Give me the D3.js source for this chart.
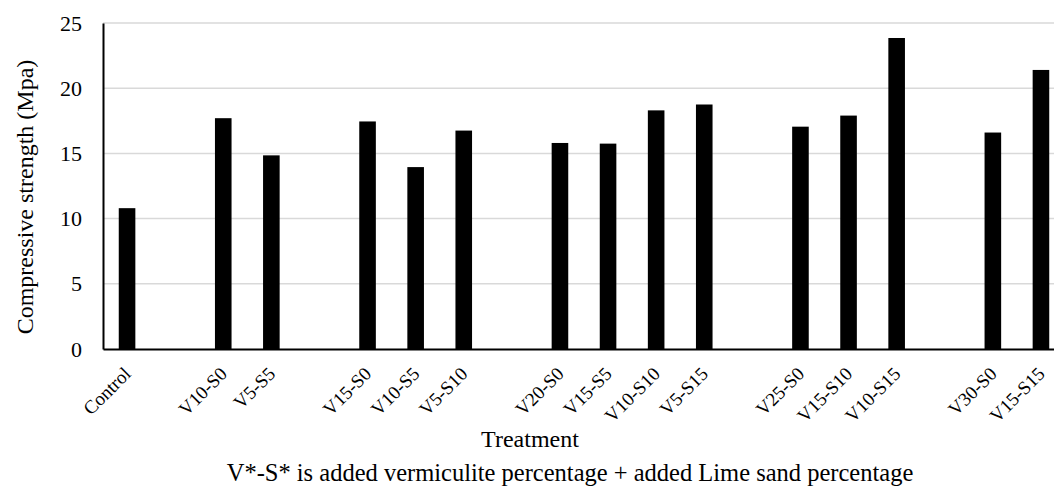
<!DOCTYPE html>
<html>
<head>
<meta charset="utf-8">
<script src="https://cdn.jsdelivr.net/npm/d3@7"></script>
<style>
  body { margin: 0; background: #fff; }
  svg { display: block; font-family: "Liberation Serif", "DejaVu Serif", serif; }
</style>
</head>
<body>
<div id="chart"></div>
<script>
// empty strings are the spacer slots between treatment groups
var categories = ["Control", "", "V10-S0", "V5-S5", "", "V15-S0", "V10-S5", "V5-S10", "",
                  "V20-S0", "V15-S5", "V10-S10", "V5-S15", "", "V25-S0", "V15-S10", "V10-S15", "",
                  "V30-S0", "V15-S15"]
var strength = [10.8, null, 17.7, 14.85, null, 17.45, 13.95, 16.75, null,
                15.8, 15.75, 18.3, 18.75, null, 17.05, 17.9, 23.85, null,
                16.6, 21.4]
var yTicks = [0, 5, 10, 15, 20, 25]

var width = 1054,
    height = 486,
    plotLeft = 103,
    plotRight = 1065,
    plotTop = 23,
    plotBottom = 349

var svg = d3.select("#chart").append("svg")
    .attr("width", width)
    .attr("height", height)

var x = d3.scaleBand()
    .domain(d3.range(categories.length))
    .range([plotLeft, plotRight])
    .paddingInner(0.655)
    .paddingOuter(0.3275)

var y = d3.scaleLinear()
    .domain([0, 25])
    .range([plotBottom, plotTop])

// gridlines
svg.append("g")
  .selectAll("line")
  .data(yTicks.filter(function(d) { return d > 0 }))
  .enter().append("line")
    .attr("x1", plotLeft)
    .attr("x2", width)
    .attr("y1", function(d) { return y(d) })
    .attr("y2", function(d) { return y(d) })
    .style("stroke", "#d9d9d9")
    .style("stroke-width", 1.5)

// bars
svg.append("g")
  .selectAll("rect")
  .data(strength.map(function(v, i) { return { i: i, v: v } }).filter(function(d) { return d.v != null }))
  .enter().append("rect")
    .attr("x", function(d) { return x(d.i) })
    .attr("width", x.bandwidth())
    .attr("y", function(d) { return y(d.v) })
    .attr("height", function(d) { return plotBottom - y(d.v) })
    .style("fill", "#000")

// y axis
var yAxis = svg.append("g")
    .attr("transform", "translate(" + plotLeft + ",0)")
    .call(d3.axisLeft(y).tickValues(yTicks).tickSize(0).tickPadding(21))
    .attr("font-family", null)
    .attr("font-size", null)
yAxis.select(".domain").style("stroke", "#000").style("stroke-width", 2)
yAxis.selectAll("text")
    .style("font-size", "22px")
    .style("fill", "#000")

// x axis
var xAxis = svg.append("g")
    .attr("transform", "translate(0," + plotBottom + ")")
    .call(d3.axisBottom(x).tickSize(0).tickFormat(function(i) { return categories[i] }))
    .attr("font-family", null)
    .attr("font-size", null)
xAxis.select(".domain").style("stroke", "#000").style("stroke-width", 2)
xAxis.selectAll("text")
    .style("font-size", "19px")
    .style("fill", "#000")
    .style("text-anchor", "end")
    .attr("dy", null)
    .attr("y", 0)
    .attr("transform", "translate(5,26) rotate(-45)")

svg.append("text")
    .attr("transform", "translate(33,197) rotate(-90)")
    .attr("text-anchor", "middle")
    .style("font-size", "24px")
    .text("Compressive strength (Mpa)")

svg.append("text")
    .attr("x", 530)
    .attr("y", 447)
    .attr("text-anchor", "middle")
    .style("font-size", "24px")
    .text("Treatment")

svg.append("text")
    .attr("x", 570)
    .attr("y", 481)
    .attr("text-anchor", "middle")
    .style("font-size", "24.5px")
    .text("V*-S* is added vermiculite percentage + added Lime sand percentage")
</script>
</body>
</html>
